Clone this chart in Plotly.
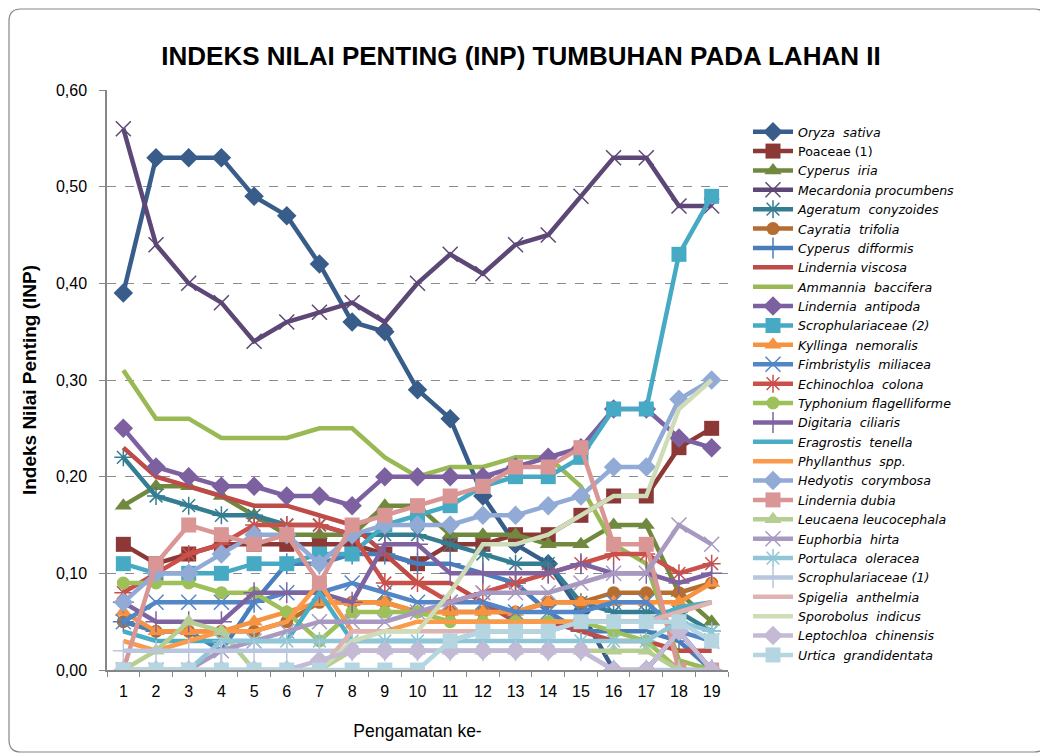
import plotly.graph_objects as go

pengamatan = [str(i) for i in range(1, 20)]

oryza_sativa = [0.39, 0.53, 0.53, 0.53, 0.49, 0.47, 0.42, 0.36, 0.35, 0.29, 0.26, 0.18, 0.13, 0.11, 0.06, 0.00, 0.00, 0.04, 0.00]
poaceae_1 = [0.13, 0.11, 0.12, 0.13, 0.13, 0.13, 0.13, 0.13, 0.12, 0.11, 0.13, 0.13, 0.14, 0.14, 0.16, 0.18, 0.18, 0.23, 0.25]
cyperus_iria = [0.17, 0.19, 0.19, 0.18, 0.16, 0.14, 0.14, 0.14, 0.17, 0.17, 0.14, 0.14, 0.14, 0.13, 0.13, 0.15, 0.15, 0.08, 0.05]
mecardonia_procumbens = [0.56, 0.44, 0.40, 0.38, 0.34, 0.36, 0.37, 0.38, 0.36, 0.40, 0.43, 0.41, 0.44, 0.45, 0.49, 0.53, 0.53, 0.48, 0.48]
ageratum_conyzoides = [0.22, 0.18, 0.17, 0.16, 0.16, 0.15, 0.15, 0.14, 0.14, 0.14, 0.13, 0.12, 0.11, 0.11, 0.07, 0.06, 0.06, 0.06, 0.04]
cayratia_trifolia = [0.05, 0.04, 0.04, 0.04, 0.04, 0.05, 0.07, 0.07, 0.07, 0.06, 0.06, 0.06, 0.06, 0.07, 0.07, 0.08, 0.08, 0.08, 0.09]
cyperus_difformis = [0.05, 0.04, 0.04, 0.02, 0.07, 0.11, 0.11, 0.12, 0.12, 0.11, 0.11, 0.10, 0.09, 0.06, 0.04, 0.04, 0.04, 0.03, 0.00]
lindernia_viscosa = [0.23, 0.20, 0.19, 0.18, 0.17, 0.17, 0.16, 0.15, 0.12, 0.09, 0.09, 0.07, 0.05, 0.05, 0.04, 0.03, 0.03, 0.02, 0.02]
ammannia_baccifera = [0.31, 0.26, 0.26, 0.24, 0.24, 0.24, 0.25, 0.25, 0.22, 0.20, 0.21, 0.21, 0.22, 0.22, 0.19, 0.13, 0.11, 0.01, 0.00]
lindernia_antipoda = [0.25, 0.21, 0.20, 0.19, 0.19, 0.18, 0.18, 0.17, 0.20, 0.20, 0.20, 0.20, 0.21, 0.22, 0.23, 0.27, 0.27, 0.24, 0.23]
scrophulariaceae_2 = [0.11, 0.10, 0.10, 0.10, 0.11, 0.11, 0.12, 0.12, 0.15, 0.16, 0.17, 0.19, 0.20, 0.20, 0.22, 0.27, 0.27, 0.43, 0.49]
kyllinga_nemoralis = [0.06, 0.04, 0.04, 0.04, 0.05, 0.06, 0.07, 0.07, 0.07, 0.06, 0.06, 0.06, 0.06, 0.07, 0.07, 0.07, 0.07, 0.07, 0.09]
fimbristylis_miliacea = [0.05, 0.07, 0.07, 0.07, 0.07, 0.08, 0.08, 0.09, 0.08, 0.07, 0.07, 0.07, 0.06, 0.06, 0.06, 0.07, 0.07, 0.04, 0.03]
echinochloa_colona = [0.08, 0.10, 0.12, 0.13, 0.15, 0.15, 0.15, 0.14, 0.09, 0.09, 0.07, 0.08, 0.09, 0.10, 0.11, 0.12, 0.12, 0.10, 0.11]
typhonium_flagelliforme = [0.09, 0.09, 0.09, 0.08, 0.08, 0.06, 0.03, 0.06, 0.06, 0.06, 0.05, 0.05, 0.05, 0.05, 0.05, 0.04, 0.03, 0.00, 0.00]
digitaria_ciliaris = [0.07, 0.05, 0.05, 0.05, 0.08, 0.08, 0.08, 0.07, 0.13, 0.13, 0.10, 0.10, 0.10, 0.10, 0.11, 0.10, 0.10, 0.09, 0.10]
eragrostis_tenella = [0.04, 0.03, 0.03, 0.03, 0.03, 0.03, 0.08, 0.03, 0.03, 0.03, 0.03, 0.04, 0.04, 0.04, 0.05, 0.05, 0.05, 0.065, 0.07]
phyllanthus_spp = [0.03, 0.02, 0.03, 0.04, 0.04, 0.05, 0.09, 0.04, 0.04, 0.05, 0.05, 0.05, 0.05, 0.05, 0.05, 0.05, 0.05, 0.06, 0.07]
hedyotis_corymbosa = [0.07, 0.10, 0.10, 0.12, 0.14, 0.14, 0.11, 0.14, 0.15, 0.15, 0.15, 0.16, 0.16, 0.17, 0.18, 0.21, 0.21, 0.28, 0.30]
lindernia_dubia = [0.00, 0.11, 0.15, 0.14, 0.13, 0.14, 0.09, 0.15, 0.16, 0.17, 0.18, 0.19, 0.21, 0.21, 0.23, 0.13, 0.13, 0.00, 0.00]
leucaena_leucocephala = [0.00, 0.02, 0.05, 0.04, 0.00, 0.00, 0.00, 0.02, 0.02, 0.02, 0.02, 0.02, 0.02, 0.02, 0.02, 0.02, 0.02, 0.00, 0.00]
euphorbia_hirta = [0.00, 0.00, 0.00, 0.02, 0.03, 0.04, 0.05, 0.05, 0.05, 0.06, 0.07, 0.08, 0.08, 0.08, 0.09, 0.10, 0.10, 0.15, 0.13]
portulaca_oleracea = [0.00, 0.00, 0.00, 0.03, 0.03, 0.03, 0.03, 0.03, 0.03, 0.03, 0.03, 0.03, 0.03, 0.03, 0.03, 0.03, 0.03, 0.05, 0.04]
scrophulariaceae_1 = [0.02, 0.02, 0.02, 0.02, 0.02, 0.02, 0.02, 0.02, 0.02, 0.02, 0.02, 0.02, 0.02, 0.02, 0.02, 0.00, 0.00, 0.00, 0.00]
spigelia_anthelmia = [0.00, 0.00, 0.00, 0.00, 0.00, 0.00, 0.00, 0.04, 0.04, 0.04, 0.04, 0.04, 0.04, 0.04, 0.05, 0.05, 0.05, 0.06, 0.07]
sporobolus_indicus = [0.00, 0.00, 0.00, 0.00, 0.00, 0.00, 0.00, 0.03, 0.04, 0.04, 0.08, 0.13, 0.13, 0.14, 0.16, 0.18, 0.18, 0.27, 0.30]
leptochloa_chinensis = [0.00, 0.00, 0.00, 0.00, 0.00, 0.00, 0.01, 0.02, 0.02, 0.02, 0.02, 0.02, 0.02, 0.02, 0.02, 0.00, 0.00, 0.04, 0.00]
urtica_grandidentata = [0.00, 0.00, 0.00, 0.00, 0.00, 0.00, 0.00, 0.00, 0.00, 0.00, 0.03, 0.04, 0.04, 0.04, 0.05, 0.05, 0.05, 0.05, 0.03]

series_names = [
    "<i>Oryza  sativa</i>", "Poaceae (1)", "<i>Cyperus  iria</i>", "<i>Mecardonia procumbens</i>",
    "<i>Ageratum  conyzoides</i>", "<i>Cayratia  trifolia</i>", "<i>Cyperus  difformis</i>",
    "<i>Lindernia viscosa</i>", "<i>Ammannia  baccifera</i>", "<i>Lindernia  antipoda</i>",
    "<i>Scrophulariaceae (2)</i>", "<i>Kyllinga  nemoralis</i>", "<i>Fimbristylis  miliacea</i>",
    "<i>Echinochloa  colona</i>", "<i>Typhonium flagelliforme</i>", "<i>Digitaria  ciliaris</i>",
    "<i>Eragrostis  tenella</i>", "<i>Phyllanthus  spp.</i>", "<i>Hedyotis  corymbosa</i>",
    "<i>Lindernia dubia</i>", "<i>Leucaena leucocephala</i>", "<i>Euphorbia  hirta</i>",
    "<i>Portulaca  oleracea</i>", "<i>Scrophulariaceae (1)</i>", "<i>Spigelia  anthelmia</i>",
    "<i>Sporobolus  indicus</i>", "<i>Leptochloa  chinensis</i>", "<i>Urtica  grandidentata</i>",
]
series_values = [
    oryza_sativa, poaceae_1, cyperus_iria, mecardonia_procumbens, ageratum_conyzoides,
    cayratia_trifolia, cyperus_difformis, lindernia_viscosa, ammannia_baccifera,
    lindernia_antipoda, scrophulariaceae_2, kyllinga_nemoralis, fimbristylis_miliacea,
    echinochloa_colona, typhonium_flagelliforme, digitaria_ciliaris, eragrostis_tenella,
    phyllanthus_spp, hedyotis_corymbosa, lindernia_dubia, leucaena_leucocephala,
    euphorbia_hirta, portulaca_oleracea, scrophulariaceae_1, spigelia_anthelmia,
    sporobolus_indicus, leptochloa_chinensis, urtica_grandidentata,
]

# styles
colors = [
    "#385D8A", "#8C3836", "#71893F", "#5C4776", "#357D91", "#B66D31", "#4A7EBB",
    "#BE4B48", "#98B954", "#7D60A0", "#46AAC5", "#F69240", "#5286C6", "#C9504B",
    "#9DC158", "#7F63A1", "#4BACC6", "#FB9A4A", "#91ABD6", "#D99694", "#B7CE92",
    "#A899C1", "#90C6D6", "#B9C6DF", "#DDB4B3", "#CEDDB8", "#C4BAD6", "#B5D6E0",
]
symbols = [
    "diamond", "square", "triangle-up", "x-thin-open", "asterisk-open", "circle", "cross-thin-open",
    None, None, "diamond", "square", "triangle-up", "x-thin-open", "asterisk-open",
    "circle", "cross-thin-open", None, None, "diamond", "square", "triangle-up",
    "x-thin-open", "asterisk-open", "cross-thin-open", None, None, "diamond", "square",
]

fig = go.Figure()
for name, vals, col, sym in zip(series_names, series_values, colors, symbols):
    if sym is None:
        mode = "lines"
        marker = dict()
    elif sym.endswith("open"):
        mode = "lines+markers"
        marker = dict(symbol=sym, size=15, color=col, line=dict(color=col, width=1.5))
    else:
        mode = "lines+markers"
        marker = dict(symbol=sym, size=15 if sym != "circle" else 13, color=col,
                      line=dict(color=col, width=0))
    fig.add_trace(go.Scatter(x=pengamatan, y=vals, name=name, mode=mode,
                             line=dict(color=col, width=4.5), marker=marker))

# page body has an 8px offset; plot area targets screen px 107..728 x 90..670
L, R, T, B = 99, 320, 82, 84
W, H = 1040, 746
pw, ph = W - L - R, H - T - B

def px2paper(x, y):
    return (x - L) / pw, (H - B - y) / ph

x0, y0 = px2paper(1, 1)
x1, y1 = px2paper(1038, 744)
rx, ry = 12 / pw, 12 / ph
path = (f"M {x0+rx},{y0} L {x1-rx},{y0} Q {x1},{y0} {x1},{y0-ry} "
        f"L {x1},{y1+ry} Q {x1},{y1} {x1-rx},{y1} L {x0+rx},{y1} "
        f"Q {x0},{y1} {x0},{y1+ry} L {x0},{y0-ry} Q {x0},{y0} {x0+rx},{y0} Z")

fig.update_layout(
    width=W, height=H,
    margin=dict(l=L, r=R, t=T, b=B),
    paper_bgcolor="white", plot_bgcolor="white",
    separators=",.",
    font=dict(family="Liberation Sans, Arial, sans-serif", color="black"),
    title=dict(text="<b>INDEKS NILAI PENTING (INP) TUMBUHAN PADA LAHAN II</b>",
               x=(521 - 8) / W, xref="container", xanchor="center",
               y=1 - (56 - 8) / H, yref="container", yanchor="middle",
               font=dict(size=26, color="black")),
    xaxis=dict(type="category", range=[-0.5, 18.5], showgrid=False,
               showline=True, linecolor="#868686", linewidth=1.5,
               ticks="outside", tickson="boundaries", ticklen=5, tickcolor="#868686",
               tickfont=dict(size=16), zeroline=False, ticklabelstandoff=6,
               title=dict(text="Pengamatan ke-", font=dict(size=17.5), standoff=26)),
    yaxis=dict(range=[0, 0.6], dtick=0.1, tickformat=".2f",
               showgrid=True, gridcolor="#8C8C8C", griddash="dash", gridwidth=1.2,
               showline=True, linecolor="#868686", linewidth=1.5,
               ticks="outside", ticklen=6, tickcolor="#868686",
               tickfont=dict(size=16), zeroline=False, ticklabelstandoff=9,
               title=dict(text="<b>Indeks Nilai Penting (INP)</b>", font=dict(size=19), standoff=14)),
    legend=dict(x=(748 - 8 - L) / pw, xanchor="left", y=(H - B - (117 - 8)) / ph, yanchor="top",
                font=dict(size=12.6, family="DejaVu Sans, Liberation Sans, sans-serif"),
                tracegroupgap=0, itemwidth=40,
                bgcolor="rgba(0,0,0,0)"),
    shapes=[dict(type="path", xref="paper", yref="paper", path=path,
                 line=dict(color="#868686", width=1.2), layer="below")],
)

fig.write_html("out.html")
